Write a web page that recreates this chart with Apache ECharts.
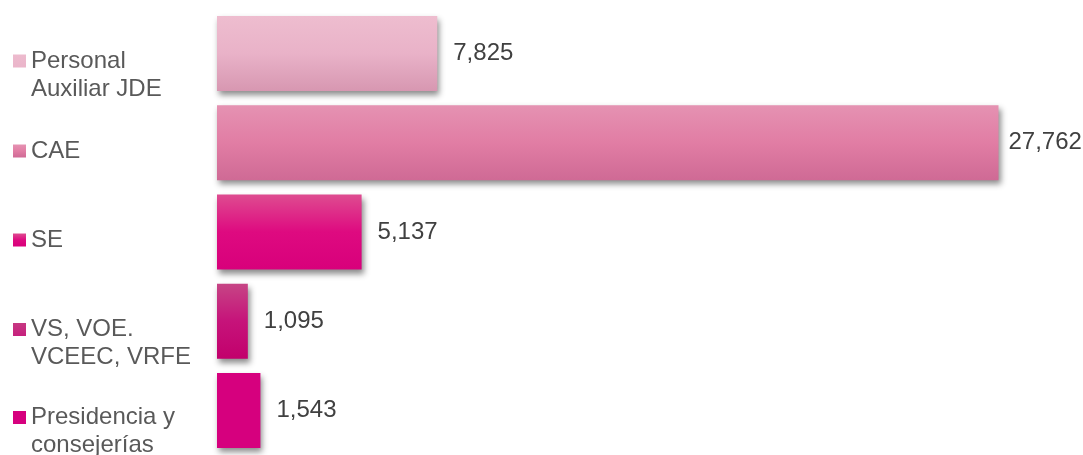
<!DOCTYPE html>
<html>
<head>
<meta charset="utf-8">
<script src="https://cdn.jsdelivr.net/npm/echarts@6/dist/echarts.min.js"></script>
<style>
  html, body { margin: 0; padding: 0; background: #fff; }
  #chart { width: 1083px; height: 455px; }
</style>
</head>
<body>
<div id="chart"></div>
<script>
var categories = ['Personal\nAuxiliar JDE', 'CAE', 'SE', 'VS, VOE.\nVCEEC, VRFE', 'Presidencia y\nconsejerías']
var values = [7825, 27762, 5137, 1095, 1543]

// top / middle / bottom colour of each bar
var palette = [
  ['#EEBDCF', '#E9B2C8', '#D797B1'],
  ['#E592B2', '#E17DA4', '#CF6A95'],
  ['#DE4C90', '#DE0A80', '#D8007B'],
  ['#C64585', '#C6137A', '#C2006C'],
  ['#D6007E', '#D6007E', '#D6007E']
]
var legendTops = [47, 137, 226, 315.5, 403.5]

function grad(c) {
  return new echarts.graphic.LinearGradient(0, 0, 0, 1, [
    { offset: 0, color: c[0] },
    { offset: 0.5, color: c[1] },
    { offset: 1, color: c[2] }
  ])
}

// square at the first text line, box spans two lines
var twoLineIcon = 'path://M0,7.5H13V20.5H0Z M0,0h0.01v0.01Z M0,56h0.01v-0.01Z'

var chartDom = document.getElementById('chart')
var myChart = echarts.init(chartDom)

var series = categories.map(function (name, i) {
  var data = values.map(function (v, j) { return j === i ? v : '-' })
  return {
    name: name,
    type: 'bar',
    stack: 'all',
    barWidth: 75,
    data: data,
    itemStyle: {
      color: grad(palette[i]),
      shadowBlur: 6,
      shadowOffsetX: 2,
      shadowOffsetY: 4,
      shadowColor: 'rgba(0,0,0,0.45)'
    },
    label: {
      show: true,
      position: 'right',
      // the longest bar's label sits closer so it fits
      distance: i === 1 ? 10 : 16,
      fontFamily: 'Liberation Sans',
      fontSize: 24,
      color: '#404040',
      formatter: function (p) { return echarts.format.addCommas(p.value) }
    }
  }
})

var legends = categories.map(function (name, i) {
  var twoLines = name.indexOf('\n') >= 0
  return {
    orient: 'vertical',
    left: 13,
    top: legendTops[i],
    padding: 0,
    itemWidth: 13,
    itemHeight: twoLines ? 56 : 13,
    icon: twoLines ? twoLineIcon : 'rect',
    selectedMode: false,
    itemStyle: { shadowBlur: 0, shadowColor: 'transparent', shadowOffsetX: 0, shadowOffsetY: 0 },
    textStyle: {
      fontFamily: 'Liberation Sans',
      fontSize: 24,
      lineHeight: 28,
      color: '#595959'
    },
    data: [{ name: name, itemStyle: { color: grad(palette[i]) } }]
  }
})

var option = {
  animation: false,
  legend: legends,
  grid: { left: 217, top: 9, width: 844.5, height: 446 },
  xAxis: {
    type: 'value',
    min: 0,
    max: 30000,
    show: false
  },
  yAxis: {
    type: 'category',
    inverse: true,
    data: categories,
    show: false
  },
  series: series
}
option && myChart.setOption(option)
</script>
</body>
</html>
